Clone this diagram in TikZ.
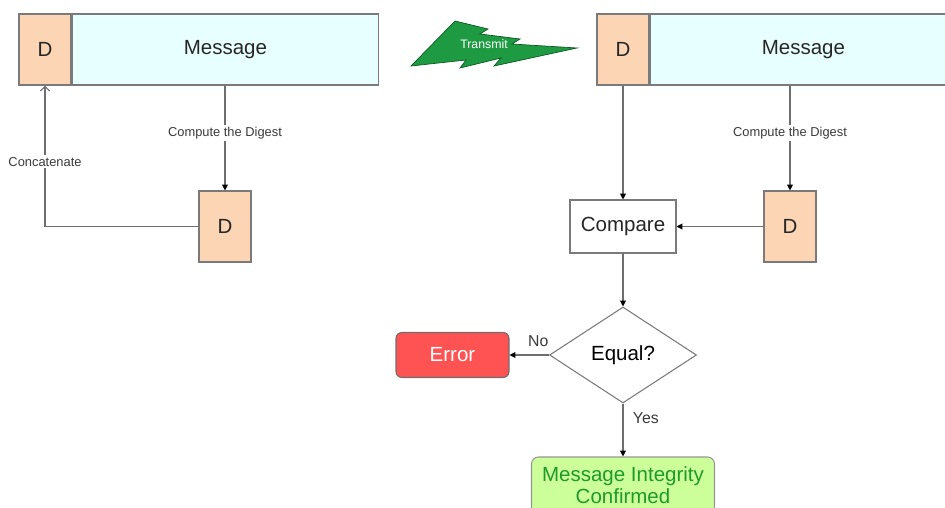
\documentclass[tikz,border=0pt]{standalone}
\usepackage{fontspec}
\setmainfont{Liberation Sans}
\usepackage{tikz}
\usetikzlibrary{arrows.meta,shapes.geometric}
\definecolor{KPeach}{HTML}{FCD5B4}
\definecolor{KCyan}{HTML}{E8FFFF}
\definecolor{KBorder}{HTML}{7A7A7A}
\definecolor{KLine}{HTML}{6E6E6E}
\definecolor{KLabel}{HTML}{3A3A3A}
\definecolor{KRed}{HTML}{FF5252}
\definecolor{KLime}{HTML}{CCFF99}
\definecolor{KLeaf}{HTML}{1F9A2A}
\definecolor{KBolt}{HTML}{1E9A42}
\definecolor{KBoltEdge}{HTML}{0D5A22}
\newcommand{\bigtxt}{\fontsize{17.5}{20}\selectfont}
\newcommand{\smalltxt}{\fontsize{11}{13}\selectfont}

\begin{document}
\begin{tikzpicture}[x=0.03cm,y=-0.03cm,
  every node/.style={align=center,inner sep=0pt},
  box/.style={rectangle,draw=KBorder,line width=0.9pt,font=\bigtxt,text=black!85},
  dbox/.style={box,fill=KPeach,minimum width=1.56cm,minimum height=2.13cm},
  msgbox/.style={box,fill=KCyan,minimum width=9.2cm,minimum height=2.13cm},
  link/.style={draw=KLine,line width=0.9pt,-{Triangle[length=5pt,width=5pt,color=black]}},
  tag/.style={fill=white,inner sep=1.5pt,text=KLabel,font=\smalltxt}]

  \useasboundingbox (0,0) rectangle (945,508);
  \clip (0,0) rectangle (945,508);

  % sender
  \node[dbox] (sendD) at (45,49.5) {D};
  \node[msgbox,anchor=west] (sendMsg) at (sendD.east) {Message};
  \node[dbox] (sendDig) at (225,226.5) {D};
  \draw[link] (sendDig.north |- sendMsg.south) -- node[tag,pos=0.45] {Compute the Digest} (sendDig.north);
  \draw[draw=KLine,line width=0.9pt,-{Straight Barb[length=4pt,width=8pt]}]
    (sendDig.west) -| node[tag,pos=0.73] {Concatenate} (sendD.south);

  % transmit bolt
  \filldraw[fill=KBolt,draw=KBoltEdge,line width=0.6pt]
    (411,66) -- (455,21) -- (488,29) -- (480,34) -- (520,39) -- (512,44)
    -- (577,48) -- (494,66) -- (501,58) -- (460,68) -- (466,60) -- cycle;
  \node[text=white,font=\fontsize{10.5}{12}\selectfont] (bolt) at (484,44) {Transmit};

  % receiver
  \node[dbox] (recvD) at (623,49.5) {D};
  \node[msgbox,anchor=west] (recvMsg) at (recvD.east) {Message};
  \node[dbox] (recvDig) at (790,226.5) {D};
  \node[box,fill=white,minimum width=3.18cm,minimum height=1.59cm] (compare) at (623,226.5) {Compare};
  \draw[link] (recvDig.north |- recvMsg.south) -- node[tag,pos=0.45] {Compute the Digest} (recvDig.north);
  \draw[link] (recvD.south) -- (compare.north);
  \draw[link] (recvDig.west) -- (compare.east);

  \node[diamond,aspect=1.5,draw=KBorder,line width=0.9pt,fill=white,font=\bigtxt,
        minimum width=4.41cm,minimum height=2.88cm] (equal) at (623,355) {Equal?};
  \draw[link] (compare.south) -- (equal.north);

  \node[box,rounded corners=5pt,fill=KRed,draw=KLine,text=white,
        minimum width=3.39cm,minimum height=1.35cm] (error) at (452.5,355) {Error};
  \draw[link] (equal.west) -- node[above=7pt,pos=0.27,text=KLabel,font=\fontsize{13.5}{15}\selectfont] {No} (error.east);

  \node[box,rounded corners=6pt,fill=KLime,draw=KBorder!80,text=KLeaf,
        minimum width=5.49cm,minimum height=1.71cm] (confirm) at (623,485.5)
        {Message Integrity\\[-1pt]Confirmed};
  \draw[link] (equal.south) -- node[right=8pt,pos=0.28,text=KLabel,font=\fontsize{13.5}{15}\selectfont] {Yes} (confirm.north);
\end{tikzpicture}
\end{document}
